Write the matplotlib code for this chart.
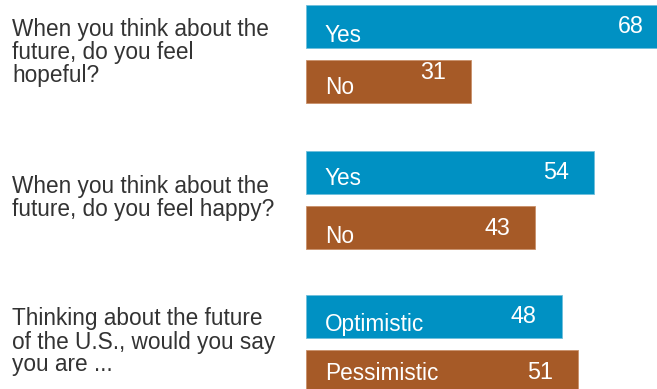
import numpy as np
import matplotlib
matplotlib.use("Agg")
import matplotlib.pyplot as plt
from matplotlib.transforms import blended_transform_factory

plt.rcParams['font.family'] = ['Liberation Sans', 'DejaVu Sans']

# data
questions = ['When you think about the\nfuture, do you feel\nhopeful?',
             'When you think about the\nfuture, do you feel happy?',
             'Thinking about the future\nof the U.S., would you say\nyou are ...']
pos_labels = ['Yes', 'Yes', 'Optimistic']
neg_labels = ['No', 'No', 'Pessimistic']
pos_values = [68, 54, 48]
neg_values = [31, 43, 51]

blue = '#0091C3'
brown = '#A65A27'

fig = plt.figure(figsize=(6.57, 3.89), dpi=100)
# axes spans from bar start to right edge (chart is cropped on the right)
ax = fig.add_axes([306 / 657, 0, 351 / 657, 1])
ax.set_xlim(0, 351 / 5.33)
ax.set_ylim(389, 0)
ax.axis('off')

# layout (pixel units down the figure)
group_centers = [54, 199.5, 344]
half_gap = 27.5
bar_h = 43
# small vertical nudges of the in-bar texts (points, up is positive)
pos_lab_nudge = [-5, -3.2, -3.6]
neg_lab_nudge = [-2.5, -4.7, 0]
pos_val_nudge = [1.5, 1.2, 1.8]
neg_val_nudge = [8.2, 0.5, 1.2]

trans_q = blended_transform_factory(fig.transFigure, ax.transData)

for i in range(3):
    yp = group_centers[i] - half_gap
    yn = group_centers[i] + half_gap
    ax.barh(yp, pos_values[i], height=bar_h, color=blue, edgecolor='#6fbfdc', linewidth=0.6)
    ax.barh(yn, neg_values[i], height=bar_h, color=brown, edgecolor='#c9906a', linewidth=0.6)

    items = [(yp, pos_labels[i], pos_values[i], pos_lab_nudge[i], pos_val_nudge[i]),
             (yn, neg_labels[i], neg_values[i], neg_lab_nudge[i], neg_val_nudge[i])]
    for y, lab, val, lnud, vnud in items:
        ax.annotate(lab, xy=(0, y), xytext=(13.5, lnud), textcoords='offset points',
                    ha='left', va='center_baseline', color='white', fontsize=16.3,
                    annotation_clip=False)
        ax.annotate(str(val), xy=(val, y), xytext=(-18, vnud), textcoords='offset points',
                    ha='right', va='center_baseline', color='white', fontsize=16.8,
                    annotation_clip=False)

    ax.text(12 / 657, group_centers[i] - 2, questions[i], transform=trans_q,
            ha='left', va='center', color='#333333', fontsize=16.3, linespacing=1.0)

fig.savefig('out.png', dpi=100)
